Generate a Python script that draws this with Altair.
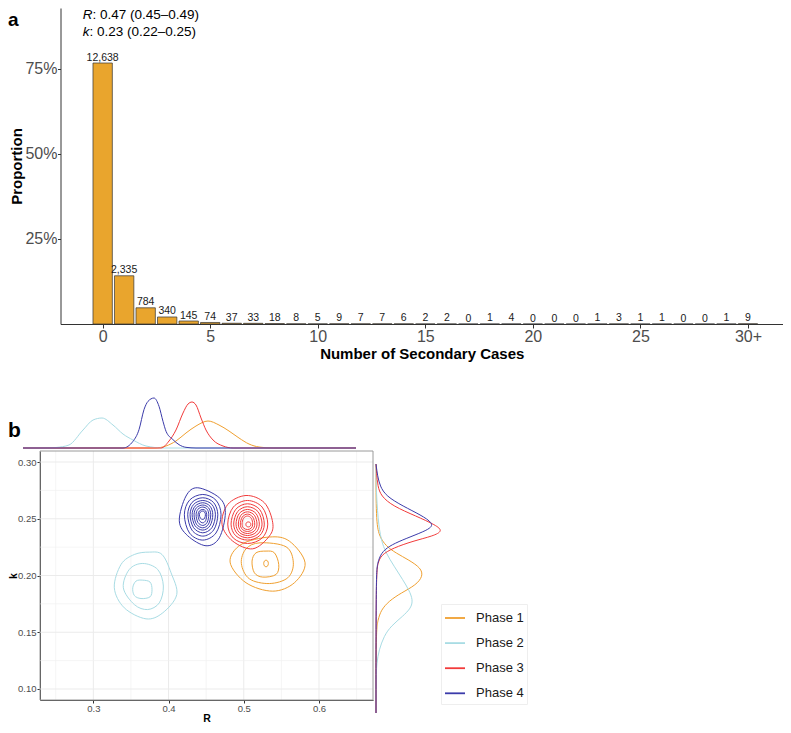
import altair as alt
import pandas as pd

FONT = "Liberation Sans"
W, H = 775, 717

# ---------------- panel a data ----------------
case_values = list(range(31))          # 30 stands for "30+"
case_counts = [12638, 2335, 784, 340, 145, 74, 37, 33, 18, 8, 5, 9, 7, 7, 6,
               2, 2, 0, 1, 4, 0, 0, 0, 1, 3, 1, 1, 0, 0, 1, 9]
a_x_ticks = [0, 5, 10, 15, 20, 25, 30]
a_y_ticks = [0.25, 0.50, 0.75]
stat_symbols = ["R", "k"]
stat_texts = [": 0.47 (0.45\u20130.49)", ": 0.23 (0.22\u20130.25)"]

# ---------------- panel b data ----------------
phases = ["Phase 1", "Phase 2", "Phase 3", "Phase 4"]
phase_colors = ["#F0A030", "#A8DCE4", "#F23B3B", "#3B3BAA"]
b_x_ticks = [0.3, 0.4, 0.5, 0.6]
b_y_ticks = [0.10, 0.15, 0.20, 0.25, 0.30]
b_x_grid_major = [0.3, 0.4, 0.5, 0.6]
b_x_grid_minor = [0.25, 0.35, 0.45, 0.55, 0.65]
b_y_grid_major = [0.10, 0.15, 0.20, 0.25, 0.30]
b_y_grid_minor = [0.125, 0.175, 0.225, 0.275]

# contour rings (R, k)
p1_rings_R = [
    [0.5340, 0.5606, 0.5815, 0.5673, 0.5385, 0.5030, 0.4818, 0.4964],
    [0.5217, 0.5562, 0.5659, 0.5585, 0.5340, 0.5074, 0.4968, 0.5030],
    [0.5296, 0.5407, 0.5465, 0.5429, 0.5252, 0.5141, 0.5110, 0.5163],
    [0.5327, 0.5318, 0.5296, 0.5274, 0.5265, 0.5274, 0.5296, 0.5318],
]
p1_rings_k = [
    [0.2339, 0.2303, 0.2112, 0.1936, 0.1862, 0.1936, 0.2118, 0.2273],
    [0.2288, 0.2253, 0.2112, 0.1980, 0.1929, 0.1971, 0.2106, 0.2235],
    [0.2215, 0.2200, 0.2097, 0.2009, 0.1986, 0.2024, 0.2127, 0.2200],
    [0.2106, 0.2127, 0.2135, 0.2127, 0.2106, 0.2085, 0.2077, 0.2085],
]
p2_rings_R = [
    [0.3744, 0.3913, 0.4033, 0.4109, 0.3923, 0.3701, 0.3412, 0.3279, 0.3368, 0.3545],
    [0.3657, 0.3856, 0.3931, 0.3877, 0.3723, 0.3545, 0.3399, 0.3478],
    [0.3657, 0.3754, 0.3780, 0.3754, 0.3634, 0.3545, 0.3524, 0.3568],
]
p2_rings_k = [
    [0.2206, 0.2185, 0.2024, 0.1832, 0.1671, 0.1618, 0.1715, 0.1892, 0.2097, 0.2185],
    [0.2106, 0.2053, 0.1907, 0.1759, 0.1700, 0.1744, 0.1892, 0.2053],
    [0.1959, 0.1942, 0.1877, 0.1812, 0.1797, 0.1824, 0.1892, 0.1951],
]
p3_rings_R = [
    [0.5030, 0.5274, 0.5385, 0.5340, 0.5119, 0.4853, 0.4711, 0.4787],
    [0.5319, 0.5244, 0.5050, 0.4861, 0.4787, 0.4861, 0.5050, 0.5244],
    [0.5273, 0.5211, 0.5050, 0.4892, 0.4831, 0.4892, 0.5050, 0.5211],
    [0.5243, 0.5189, 0.5050, 0.4918, 0.4866, 0.4918, 0.5050, 0.5189],
    [0.5207, 0.5163, 0.5050, 0.4940, 0.4897, 0.4940, 0.5050, 0.5163],
    [0.5176, 0.5141, 0.5050, 0.4962, 0.4928, 0.4962, 0.5050, 0.5141],
    [0.5146, 0.5119, 0.5050, 0.4981, 0.4954, 0.4981, 0.5050, 0.5119],
    [0.5119, 0.5100, 0.5050, 0.4997, 0.4977, 0.4997, 0.5050, 0.5100],
    [0.5094, 0.5085, 0.5061, 0.5037, 0.5028, 0.5037, 0.5061, 0.5085],
]
p3_rings_k = [
    [0.2705, 0.2641, 0.2465, 0.2347, 0.2235, 0.2303, 0.2450, 0.2626],
    [0.2453, 0.2603, 0.2661, 0.2603, 0.2453, 0.2330, 0.2282, 0.2330],
    [0.2453, 0.2582, 0.2632, 0.2582, 0.2453, 0.2351, 0.2312, 0.2351],
    [0.2453, 0.2563, 0.2606, 0.2563, 0.2453, 0.2366, 0.2332, 0.2366],
    [0.2453, 0.2546, 0.2582, 0.2546, 0.2453, 0.2380, 0.2352, 0.2380],
    [0.2453, 0.2531, 0.2561, 0.2531, 0.2453, 0.2393, 0.2370, 0.2393],
    [0.2453, 0.2516, 0.2541, 0.2516, 0.2453, 0.2406, 0.2388, 0.2406],
    [0.2453, 0.2504, 0.2524, 0.2504, 0.2453, 0.2418, 0.2405, 0.2418],
    [0.2450, 0.2466, 0.2472, 0.2466, 0.2450, 0.2434, 0.2428, 0.2434],
]
p4_rings_R = [
    [0.4388, 0.4675, 0.4755, 0.4675, 0.4498, 0.4255, 0.4143, 0.4232],
    [0.4698, 0.4630, 0.4455, 0.4279, 0.4210, 0.4279, 0.4455, 0.4630],
    [0.4655, 0.4599, 0.4455, 0.4311, 0.4255, 0.4311, 0.4455, 0.4599],
    [0.4623, 0.4576, 0.4455, 0.4333, 0.4286, 0.4333, 0.4455, 0.4576],
    [0.4588, 0.4551, 0.4455, 0.4353, 0.4313, 0.4353, 0.4455, 0.4551],
    [0.4561, 0.4531, 0.4455, 0.4371, 0.4339, 0.4371, 0.4455, 0.4531],
    [0.4535, 0.4513, 0.4455, 0.4391, 0.4366, 0.4391, 0.4455, 0.4513],
    [0.4508, 0.4493, 0.4455, 0.4410, 0.4392, 0.4410, 0.4455, 0.4493],
    [0.4490, 0.4480, 0.4455, 0.4423, 0.4410, 0.4423, 0.4455, 0.4480],
]
p4_rings_k = [
    [0.2773, 0.2685, 0.2553, 0.2332, 0.2262, 0.2350, 0.2482, 0.2700],
    [0.2535, 0.2664, 0.2714, 0.2664, 0.2535, 0.2374, 0.2312, 0.2374],
    [0.2535, 0.2643, 0.2685, 0.2643, 0.2535, 0.2400, 0.2347, 0.2400],
    [0.2535, 0.2626, 0.2661, 0.2626, 0.2535, 0.2421, 0.2376, 0.2421],
    [0.2535, 0.2611, 0.2641, 0.2611, 0.2535, 0.2438, 0.2400, 0.2438],
    [0.2535, 0.2597, 0.2621, 0.2597, 0.2535, 0.2452, 0.2420, 0.2452],
    [0.2535, 0.2584, 0.2603, 0.2584, 0.2535, 0.2467, 0.2441, 0.2467],
    [0.2535, 0.2569, 0.2582, 0.2569, 0.2535, 0.2484, 0.2464, 0.2484],
    [0.2535, 0.2559, 0.2568, 0.2559, 0.2535, 0.2505, 0.2494, 0.2505],
]

# marginal densities of R (top)
top_p1_R = [0.2508, 0.4500, 0.4666, 0.4817, 0.4968, 0.5119, 0.5300, 0.5466, 0.5617, 0.5768, 0.5919, 0.6070, 0.6282, 0.7534]
top_p1_d = [0, 0, 1.2, 4.2, 9.0, 13.2, 16.2, 13.8, 10.2, 6.0, 2.4, 0.6, 0, 0]
top_p2_R = [0.2508, 0.2855, 0.3006, 0.3202, 0.3414, 0.3565, 0.3700, 0.3866, 0.4017, 0.4168, 0.4365, 0.4621, 0.7534]
top_p2_d = [0, 0, 0.3, 1.8, 10.8, 16.8, 18.0, 13.8, 8.4, 4.8, 1.2, 0, 0]
top_p3_R = [0.2508, 0.4591, 0.4712, 0.4817, 0.4923, 0.4999, 0.5059, 0.5119, 0.5195, 0.5270, 0.5376, 0.5527, 0.5678, 0.7534]
top_p3_d = [0, 0, 4.2, 10.8, 21.0, 26.4, 27.6, 25.8, 18.0, 10.8, 4.8, 1.2, 0, 0]
top_p4_R = [0.2508, 0.4017, 0.4168, 0.4259, 0.4334, 0.4395, 0.4485, 0.4561, 0.4621, 0.4667, 0.4772, 0.4863, 0.4968, 0.5119, 0.7534]
top_p4_d = [0, 0, 4.0, 11.0, 23.0, 28.0, 30.0, 25.0, 16.0, 10.0, 5.0, 2.0, 0.4, 0, 0]

# marginal densities of k (right)
right_p1_k = [0.3017, 0.2560, 0.2430, 0.2348, 0.2291, 0.2234, 0.2169, 0.2103, 0.2030, 0.1965, 0.1900, 0.1826, 0.1745, 0.1663, 0.0986]
right_p1_d = [0, 0, 1.5, 5.0, 10.0, 16.5, 22.5, 23.5, 20.0, 12.5, 6.5, 2.5, 1.0, 0, 0]
right_p2_k = [0.3017, 0.2838, 0.2560, 0.2397, 0.2291, 0.2185, 0.2071, 0.1989, 0.1908, 0.1842, 0.1777, 0.1696, 0.1614, 0.1500, 0.1394, 0.1255, 0.0986]
right_p2_d = [0, 0, 1.0, 2.5, 5.0, 9.0, 13.5, 16.5, 18.5, 17.5, 13.5, 7.5, 4.0, 1.5, 0.35, 0, 0]
right_p3_k = [0.3017, 0.2944, 0.2838, 0.2756, 0.2674, 0.2593, 0.2519, 0.2471, 0.2430, 0.2389, 0.2332, 0.2275, 0.2209, 0.2128, 0.0986]
right_p3_d = [0, 0.3, 0.85, 2.5, 8.5, 20.0, 30.0, 33.5, 28.5, 18.5, 8.5, 2.5, 1.0, 0, 0]
right_p4_k = [0.3017, 0.2919, 0.2838, 0.2756, 0.2674, 0.2601, 0.2536, 0.2495, 0.2454, 0.2397, 0.2348, 0.2291, 0.2209, 0.2128, 0.0986]
right_p4_d = [0, 0.8, 2.0, 5.0, 13.5, 22.5, 28.5, 27.5, 22.0, 13.0, 6.5, 2.5, 0.8, 0, 0]

# ---------------- tables ----------------
df_a = pd.DataFrame({"case": case_values, "count": case_counts})
df_a["prop"] = df_a["count"] / df_a["count"].sum()

rows = []
for ph, rr_all, kk_all in [(phases[0], p1_rings_R, p1_rings_k), (phases[1], p2_rings_R, p2_rings_k),
                           (phases[2], p3_rings_R, p3_rings_k), (phases[3], p4_rings_R, p4_rings_k)]:
    for j, (rr, kk) in enumerate(zip(rr_all, kk_all)):
        for i, (r, k) in enumerate(zip(rr, kk)):
            rows.append({"phase": ph, "ring": f"{ph}-{j}", "idx": i, "R": r, "k": k})
df_c = pd.DataFrame(rows)

rows = []
for ph, rr, dd in [(phases[0], top_p1_R, top_p1_d), (phases[1], top_p2_R, top_p2_d),
                   (phases[2], top_p3_R, top_p3_d), (phases[3], top_p4_R, top_p4_d)]:
    for r, d in zip(rr, dd):
        rows.append({"phase": ph, "R": r, "dens": d})
df_top = pd.DataFrame(rows)

rows = []
for ph, kk, dd in [(phases[0], right_p1_k, right_p1_d), (phases[1], right_p2_k, right_p2_d),
                   (phases[2], right_p3_k, right_p3_d), (phases[3], right_p4_k, right_p4_d)]:
    for k, d in zip(kk, dd):
        rows.append({"phase": ph, "k": k, "dens": d})
df_right = pd.DataFrame(rows)

# ---------------- scales (pixel frames) ----------------
XA = alt.Scale(domain=[-1.96, 31.63], range=[52.5, 775], nice=False, zero=False)
YA = alt.Scale(domain=[0, 0.929], range=[316, 0], nice=False, zero=False)
RB = [0.2291, 0.6718]
KB = [0.0903, 0.3097]
XB = alt.Scale(domain=RB, range=[32, 365], nice=False, zero=False)
YB = alt.Scale(domain=KB, range=[692, 443], nice=False, zero=False)
XT = alt.Scale(domain=[0.2508, 0.7534], range=[15, 348], nice=False, zero=False)
YT = alt.Scale(domain=[0, 30], range=[440, 390], nice=False, zero=False)
XR = alt.Scale(domain=[0, 40], range=[368, 448], nice=False, zero=False)
YR = alt.Scale(domain=[0.0986, 0.3018], range=[705, 456], nice=False, zero=False)

legend = alt.Legend(orient="none", legendX=433, legendY=596, title=None, symbolType="stroke",
                    symbolSize=400, symbolStrokeWidth=1.8, labelFontSize=13, labelColor="#1A1A1A",
                    rowPadding=7.1, padding=3, strokeColor="#EEEEEE", fillColor="white",
                    labelOffset=10, labelFont=FONT)
color_enc = alt.Color("phase:N", scale=alt.Scale(domain=phases, range=phase_colors), legend=legend)

AX = dict(domain=True, ticks=True, labels=True, grid=False,
          domainColor="#333333", tickColor="#333333", labelColor="#4D4D4D", titleColor="black",
          titleFontWeight="bold")

# ---------------- panel a ----------------
bars = alt.Chart(df_a).transform_calculate(
    lo="datum.case - 0.45", hi="datum.case + 0.45"
).mark_bar(fill="#E9A52D", stroke="#333333", strokeWidth=0.7).encode(
    x=alt.X("lo:Q", scale=XA, axis=alt.Axis(
        orient="bottom", offset=-(H - 316), values=a_x_ticks,
        labelExpr="datum.value == 30 ? '30+' : datum.value",
        title="Number of Secondary Cases", titleFontSize=15,
        labelFontSize=16, tickSize=4, labelPadding=0, titlePadding=2, **AX)),
    x2="hi:Q",
    y=alt.Y("prop:Q", scale=YA, axis=alt.Axis(
        orient="left", offset=-52.5, values=a_y_ticks, format=".0%",
        title="Proportion", titleFontSize=15, titleX=-44.5, titleBaseline="middle",
        labelFontSize=16, tickSize=3, labelPadding=0.5, **AX)),
    y2=alt.Y2(datum=0),
)

bar_labels = alt.Chart(df_a).mark_text(baseline="bottom", dy=-0.5, fontSize=10.5, color="#1A1A1A").encode(
    x=alt.X("case:Q", scale=XA, axis=None),
    y=alt.Y("prop:Q", scale=YA, axis=None),
    text=alt.Text("count:Q", format=","),
)

stat_x = -0.93
stat_y = [0.9074, 0.8582]
stat_dx = [9.8, 6.8]
stat_layers = []
for i in range(2):
    d = pd.DataFrame({"sym": [stat_symbols[i]], "txt": [stat_texts[i]], "x": [stat_x], "y": [stat_y[i]]})
    stat_layers.append(alt.Chart(d).mark_text(align="left", baseline="middle", fontSize=13.5,
                                              fontStyle="italic", color="black").encode(
        x=alt.X("x:Q", scale=XA, axis=None), y=alt.Y("y:Q", scale=YA, axis=None), text="sym:N"))
    stat_layers.append(alt.Chart(d).mark_text(align="left", baseline="middle", fontSize=13.5,
                                              dx=stat_dx[i], color="black").encode(
        x=alt.X("x:Q", scale=XA, axis=None), y=alt.Y("y:Q", scale=YA, axis=None), text="txt:N"))

tag_a = alt.Chart(pd.DataFrame({"t": ["a"]})).mark_text(
    align="left", baseline="alphabetic", fontSize=19, fontWeight="bold", color="black").encode(
    x=alt.value(0), y=alt.value(17.5), text="t:N")
tag_b = alt.Chart(pd.DataFrame({"t": ["b"]})).mark_text(
    align="left", baseline="alphabetic", fontSize=21, fontWeight="bold", color="black").encode(
    x=alt.value(0), y=alt.value(429), text="t:N")

# ---------------- panel b ----------------
gx_major = alt.Chart(pd.DataFrame({"R": b_x_grid_major})).mark_rule(color="#EBEBEB", strokeWidth=1).encode(
    x=alt.X("R:Q", scale=XB, axis=None),
    y=alt.Y(datum=KB[0], scale=YB, axis=None), y2=alt.Y2(datum=KB[1]))
gx_minor = alt.Chart(pd.DataFrame({"R": b_x_grid_minor})).mark_rule(color="#F0F0F0", strokeWidth=0.7).encode(
    x=alt.X("R:Q", scale=XB, axis=None),
    y=alt.Y(datum=KB[0], scale=YB, axis=None), y2=alt.Y2(datum=KB[1]))
gy_major = alt.Chart(pd.DataFrame({"k": b_y_grid_major})).mark_rule(color="#EBEBEB", strokeWidth=1).encode(
    y=alt.Y("k:Q", scale=YB, axis=None),
    x=alt.X(datum=RB[0], scale=XB, axis=None), x2=alt.X2(datum=RB[1]))
gy_minor = alt.Chart(pd.DataFrame({"k": b_y_grid_minor})).mark_rule(color="#F0F0F0", strokeWidth=0.7).encode(
    y=alt.Y("k:Q", scale=YB, axis=None),
    x=alt.X(datum=RB[0], scale=XB, axis=None), x2=alt.X2(datum=RB[1]))

border = alt.Chart(pd.DataFrame({"z": [0]})).mark_rect(fillOpacity=0, stroke="#9A9A9A", strokeWidth=1).encode(
    x=alt.X(datum=RB[0], scale=XB, axis=None), x2=alt.X2(datum=RB[1]),
    y=alt.Y(datum=KB[0], scale=YB, axis=None), y2=alt.Y2(datum=KB[1]))

contours = alt.Chart(df_c).mark_line(interpolate="cardinal-closed", strokeWidth=1).encode(
    x=alt.X("R:Q", scale=XB, axis=alt.Axis(
        orient="bottom", offset=-(H - 692), values=b_x_ticks, format=".1f", title="R",
        titleFontSize=10.5, labelFontSize=9.5, tickSize=3, labelPadding=0.5, titlePadding=0, **AX)),
    y=alt.Y("k:Q", scale=YB, axis=alt.Axis(
        orient="left", offset=-32, values=b_y_ticks, format=".2f", title="k",
        titleFontSize=10.5, titleX=-26.5, titleBaseline="middle",
        labelFontSize=9.5, tickSize=3, labelPadding=1, **AX)),
    color=color_enc, detail="ring:N", order="idx:Q",
)

top = alt.Chart(df_top).mark_line(interpolate="monotone", strokeWidth=1).encode(
    x=alt.X("R:Q", scale=XT, axis=None),
    y=alt.Y("dens:Q", scale=YT, axis=None),
    color=color_enc, order="R:Q")

right = alt.Chart(df_right).mark_line(interpolate="basis", strokeWidth=1).encode(
    x=alt.X("dens:Q", scale=XR, axis=None),
    y=alt.Y("k:Q", scale=YR, axis=None),
    color=color_enc, order="k:Q")

chart = alt.layer(
    bars, bar_labels, *stat_layers, tag_a, tag_b,
    gx_minor, gx_major, gy_minor, gy_major, border, contours, top, right,
).resolve_scale(x="independent", y="independent").resolve_axis(
    x="independent", y="independent"
).properties(
    width=W, height=H, padding=0, autosize=alt.AutoSizeParams(type="none"),
    background="white",
).configure(font=FONT).configure_view(stroke=None, strokeWidth=0).configure_axis(
    domain=False, ticks=False, labels=False, grid=False
)

chart.save("out.html", embed_options={"renderer": "svg", "actions": False})
